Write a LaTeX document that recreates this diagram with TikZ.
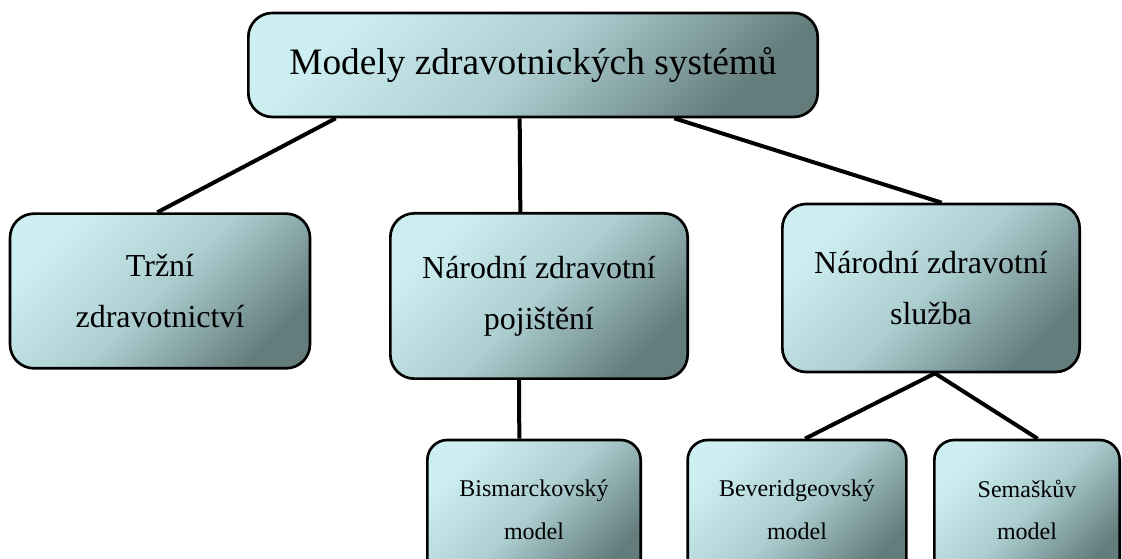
\documentclass[tikz,border=0pt]{standalone}
\usepackage{fontspec}
\setmainfont{Liberation Serif}
\usetikzlibrary{positioning,calc}

\definecolor{boxlight}{RGB}{206,239,242}
\definecolor{boxmid}{RGB}{172,206,209}
\definecolor{boxdark}{RGB}{100,124,124}

\begin{document}
\begin{tikzpicture}[x=0.75pt, y=-0.75pt,
	modelbox/.style={draw=black, line width=2pt, rounded corners=18pt, align=center, inner sep=0pt,
		top color=boxlight, bottom color=boxdark, middle color=boxmid, shading angle=45},
	link/.style={line width=3pt}]
		\clip (0,0) rectangle (1122,559);
		
		% Top node
		\node[modelbox, minimum width=427pt, minimum height=78pt,
			font=\fontsize{28}{34}\selectfont] (top) at (533,65) {Modely zdravotnických systémů};
		
		% Second level
		\node[modelbox, minimum width=225pt, minimum height=116pt,
			font=\fontsize{24}{38}\selectfont] (trzni) at (160,291) {Tržní\\zdravotnictví};
		\node[modelbox, minimum width=223pt, minimum height=124pt,
			font=\fontsize{24}{38}\selectfont] (pojisteni) at (539,296) {Národní zdravotní\\pojištění};
		\node[modelbox, minimum width=223pt, minimum height=126pt,
			font=\fontsize{24}{38}\selectfont] (sluzba) at (931,288) {Národní zdravotní\\služba};
		
		% Third level
		\node[modelbox, rounded corners=15pt, minimum width=160pt, minimum height=105pt,
			font=\fontsize{18}{32}\selectfont] (bismarck) at (534,510) {Bismarckovský\\model};
		\node[modelbox, rounded corners=15pt, minimum width=164pt, minimum height=105pt,
			font=\fontsize{18}{32}\selectfont] (beveridge) at (797,510) {Beveridgeovský\\model};
		\node[modelbox, rounded corners=15pt, minimum width=139pt, minimum height=105pt,
			font=\fontsize{18}{32}\selectfont] (semaskuv) at (1027,510) {Semaškův\\model};
		
		% connections
		\draw[link] ([xshift=-148pt]top.south) -- ([xshift=-2pt]trzni.north);
		\draw[link] ([xshift=-10pt]top.south) -- ([xshift=-14pt]pojisteni.north);
		\draw[link] ([xshift=106pt]top.south) -- ([xshift=8pt]sluzba.north);
		
		\draw[link] ([xshift=-15pt]pojisteni.south) -- ([xshift=-11pt]bismarck.north);
		\draw[link] ([xshift=3pt]sluzba.south) -- ([xshift=6pt]beveridge.north);
		\draw[link] ([xshift=3pt]sluzba.south) -- ([xshift=8pt]semaskuv.north);
	\end{tikzpicture}
\end{document}
